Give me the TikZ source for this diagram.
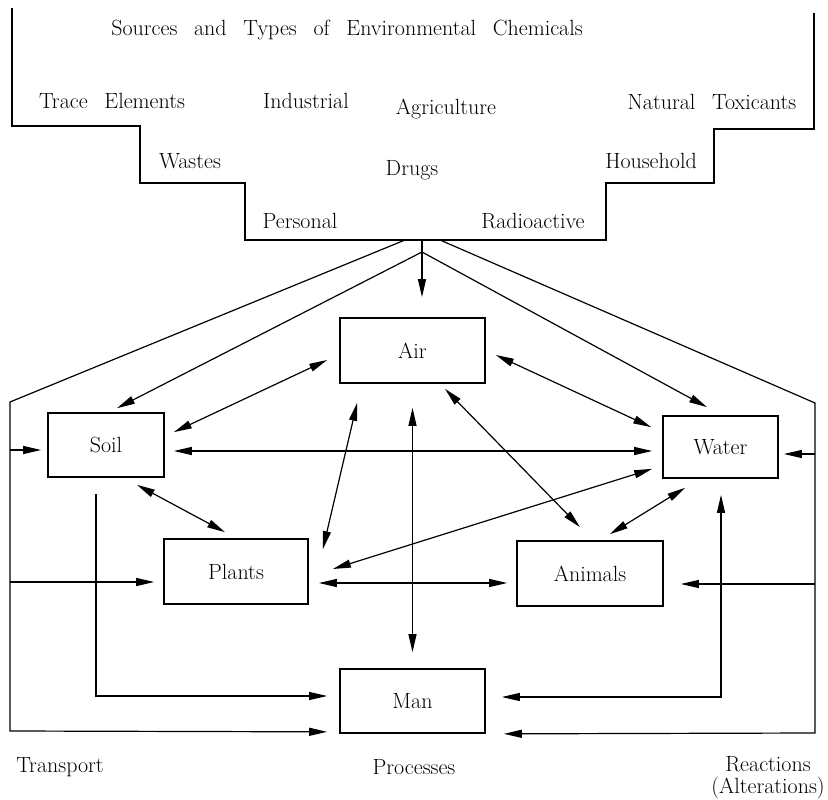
\documentclass[tikz,border=0pt]{standalone}
\usepackage{fontspec}
\usetikzlibrary{arrows.meta}
\newcommand\mylblfont{\fontsize{22}{26}\selectfont\spaceskip=0.76em\relax}
\newcommand\myboxfont{\fontsize{22}{26}\selectfont}
\begin{document}
\begin{tikzpicture}[x=1pt,y=-1pt,
  txt/.style={font=\mylblfont, inner sep=0pt, text height=15pt, text depth=4pt},
  box/.style={draw, line width=1.7pt, minimum width=#1, minimum height=64pt, inner sep=0pt, font=\myboxfont, text height=15pt, text depth=0pt},
  conn/.style={line width=1.2pt},
  arr/.style={conn, -{Triangle[length=18pt,width=8pt]}},
  dbl/.style={conn, {Triangle[length=18pt,width=8pt]}-{Triangle[length=18pt,width=8pt]}}
]
\useasboundingbox (0,0) rectangle (828,800);

% top outline
\draw[line width=1.2pt] (12,8) -- (12,126) -- (140,126) -- (140,183) -- (245,183) -- (245,240)
  -- (606,240) -- (606,183) -- (714,183) -- (714,129) -- (814,129) -- (814,13);

% labels in the source region
\node[txt] (title) at (347,30) {Sources and Types of Environmental Chemicals};
\node[txt] (trace) at (112,103) {Trace Elements};
\node[txt] (indus) at (306,103) {Industrial};
\node[txt] (agri) at (446,109) {Agriculture};
\node[txt] (natur) at (712,104) {Natural Toxicants};
\node[txt] (waste) at (190,163) {Wastes};
\node[txt] (drugs) at (412,170) {Drugs};
\node[txt] (house) at (651,163) {Household};
\node[txt] (perso) at (300,223) {Personal};
\node[txt] (radio) at (533,223) {Radioactive};

% boxes
\node[box=116pt] (soil) at (106,445) {Soil};
\node[box=115pt, minimum height=62pt] (water) at (720.5,447) {Water};
\node[box=145pt, minimum height=65pt] (air) at (412.5,350.5) {Air};
\node[box=144pt, minimum height=65pt] (plants) at (236,571.5) {Plants};
\node[box=146pt, minimum height=65pt] (animals) at (590,573.5) {Animals};
\node[box=145pt] (man) at (412.5,701) {Man};

% bottom labels
\node[txt] (transp) at (60,767) {Transport};
\node[txt] (proc) at (414,769) {Processes};
\node[font=\myboxfont, align=center, inner sep=0pt] (react) at (768,778) {Reactions\\[-4pt](Alterations)};

% source coordinates
\coordinate (src) at (422,240);
\coordinate (srcb) at (422,252);
\coordinate (srcL) at (405,240);
\coordinate (srcR) at (440,240);
\coordinate (bendL) at (10,402);
\coordinate (bendR) at (815,403);
\coordinate (fL1) at (10,450);
\coordinate (fL2) at (10,582);
\coordinate (fR1) at (815,454);
\coordinate (fR2) at (815,584);

% from sources
\draw[conn] (src) -- (srcb);
\draw[arr] (srcb) -- ([shift={(9.5,-20)}]air.north);
\draw[arr] (srcb) -- ([shift={(11,-4)}]soil.north);
\draw[arr] (srcb) -- ([shift={(-13.5,-8)}]water.north);

% outer frame
\draw[arr] (srcL) -- (bendL) -- (10,731) -- ([shift={(-12,-2)}]man.south west);
\draw[arr] (srcR) -- (bendR) -- (815,733) -- ([shift={(18,0)}]man.south east);
\draw[arr] (fL1) -- ([shift={(-6,5)}]soil.west);
\draw[arr] (fL2) -- ([shift={(-9,10.5)}]plants.west);
\draw[arr] (fR1) -- ([shift={(5,7)}]water.east);
\draw[arr] (fR2) -- ([shift={(17,10.5)}]animals.east);

% interactions
\draw[dbl] ([shift={(9,6)}]soil.east) -- ([shift={(-10,4)}]water.west);
\draw[dbl] ([shift={(-12,9.5)}]air.west) -- ([shift={(9,20)}]soil.north east);
\draw[dbl] ([shift={(10,4.5)}]air.east) -- ([shift={(-11,12)}]water.north west);
\draw[dbl] ([shift={(18,19)}]air.south west) -- ([shift={(14,11)}]plants.north east);
\draw[dbl] ([shift={(0,24)}]air.south) -- ([shift={(0,-16)}]man.north);
\draw[dbl] ([shift={(32.5,5)}]air.south) -- ([shift={(-10,-13)}]animals.north);
\draw[dbl] ([shift={(31,7)}]soil.south) -- ([shift={(-11,-6)}]plants.north);
\draw[dbl] ([shift={(-10,-10)}]water.south west) -- ([shift={(24,-2.5)}]plants.east);
\draw[dbl] ([shift={(-35.5,9)}]water.south) -- ([shift={(20,-6)}]animals.north);
\draw[dbl] ([shift={(10,11.5)}]plants.east) -- ([shift={(-9,9.5)}]animals.west);
\draw[arr] ([shift={(-10,16)}]soil.south) |- ([shift={(-12,-5)}]man.west);
\draw[dbl] ([shift={(0.5,16)}]water.south) |- ([shift={(16,-4)}]man.east);
\end{tikzpicture}
\end{document}
